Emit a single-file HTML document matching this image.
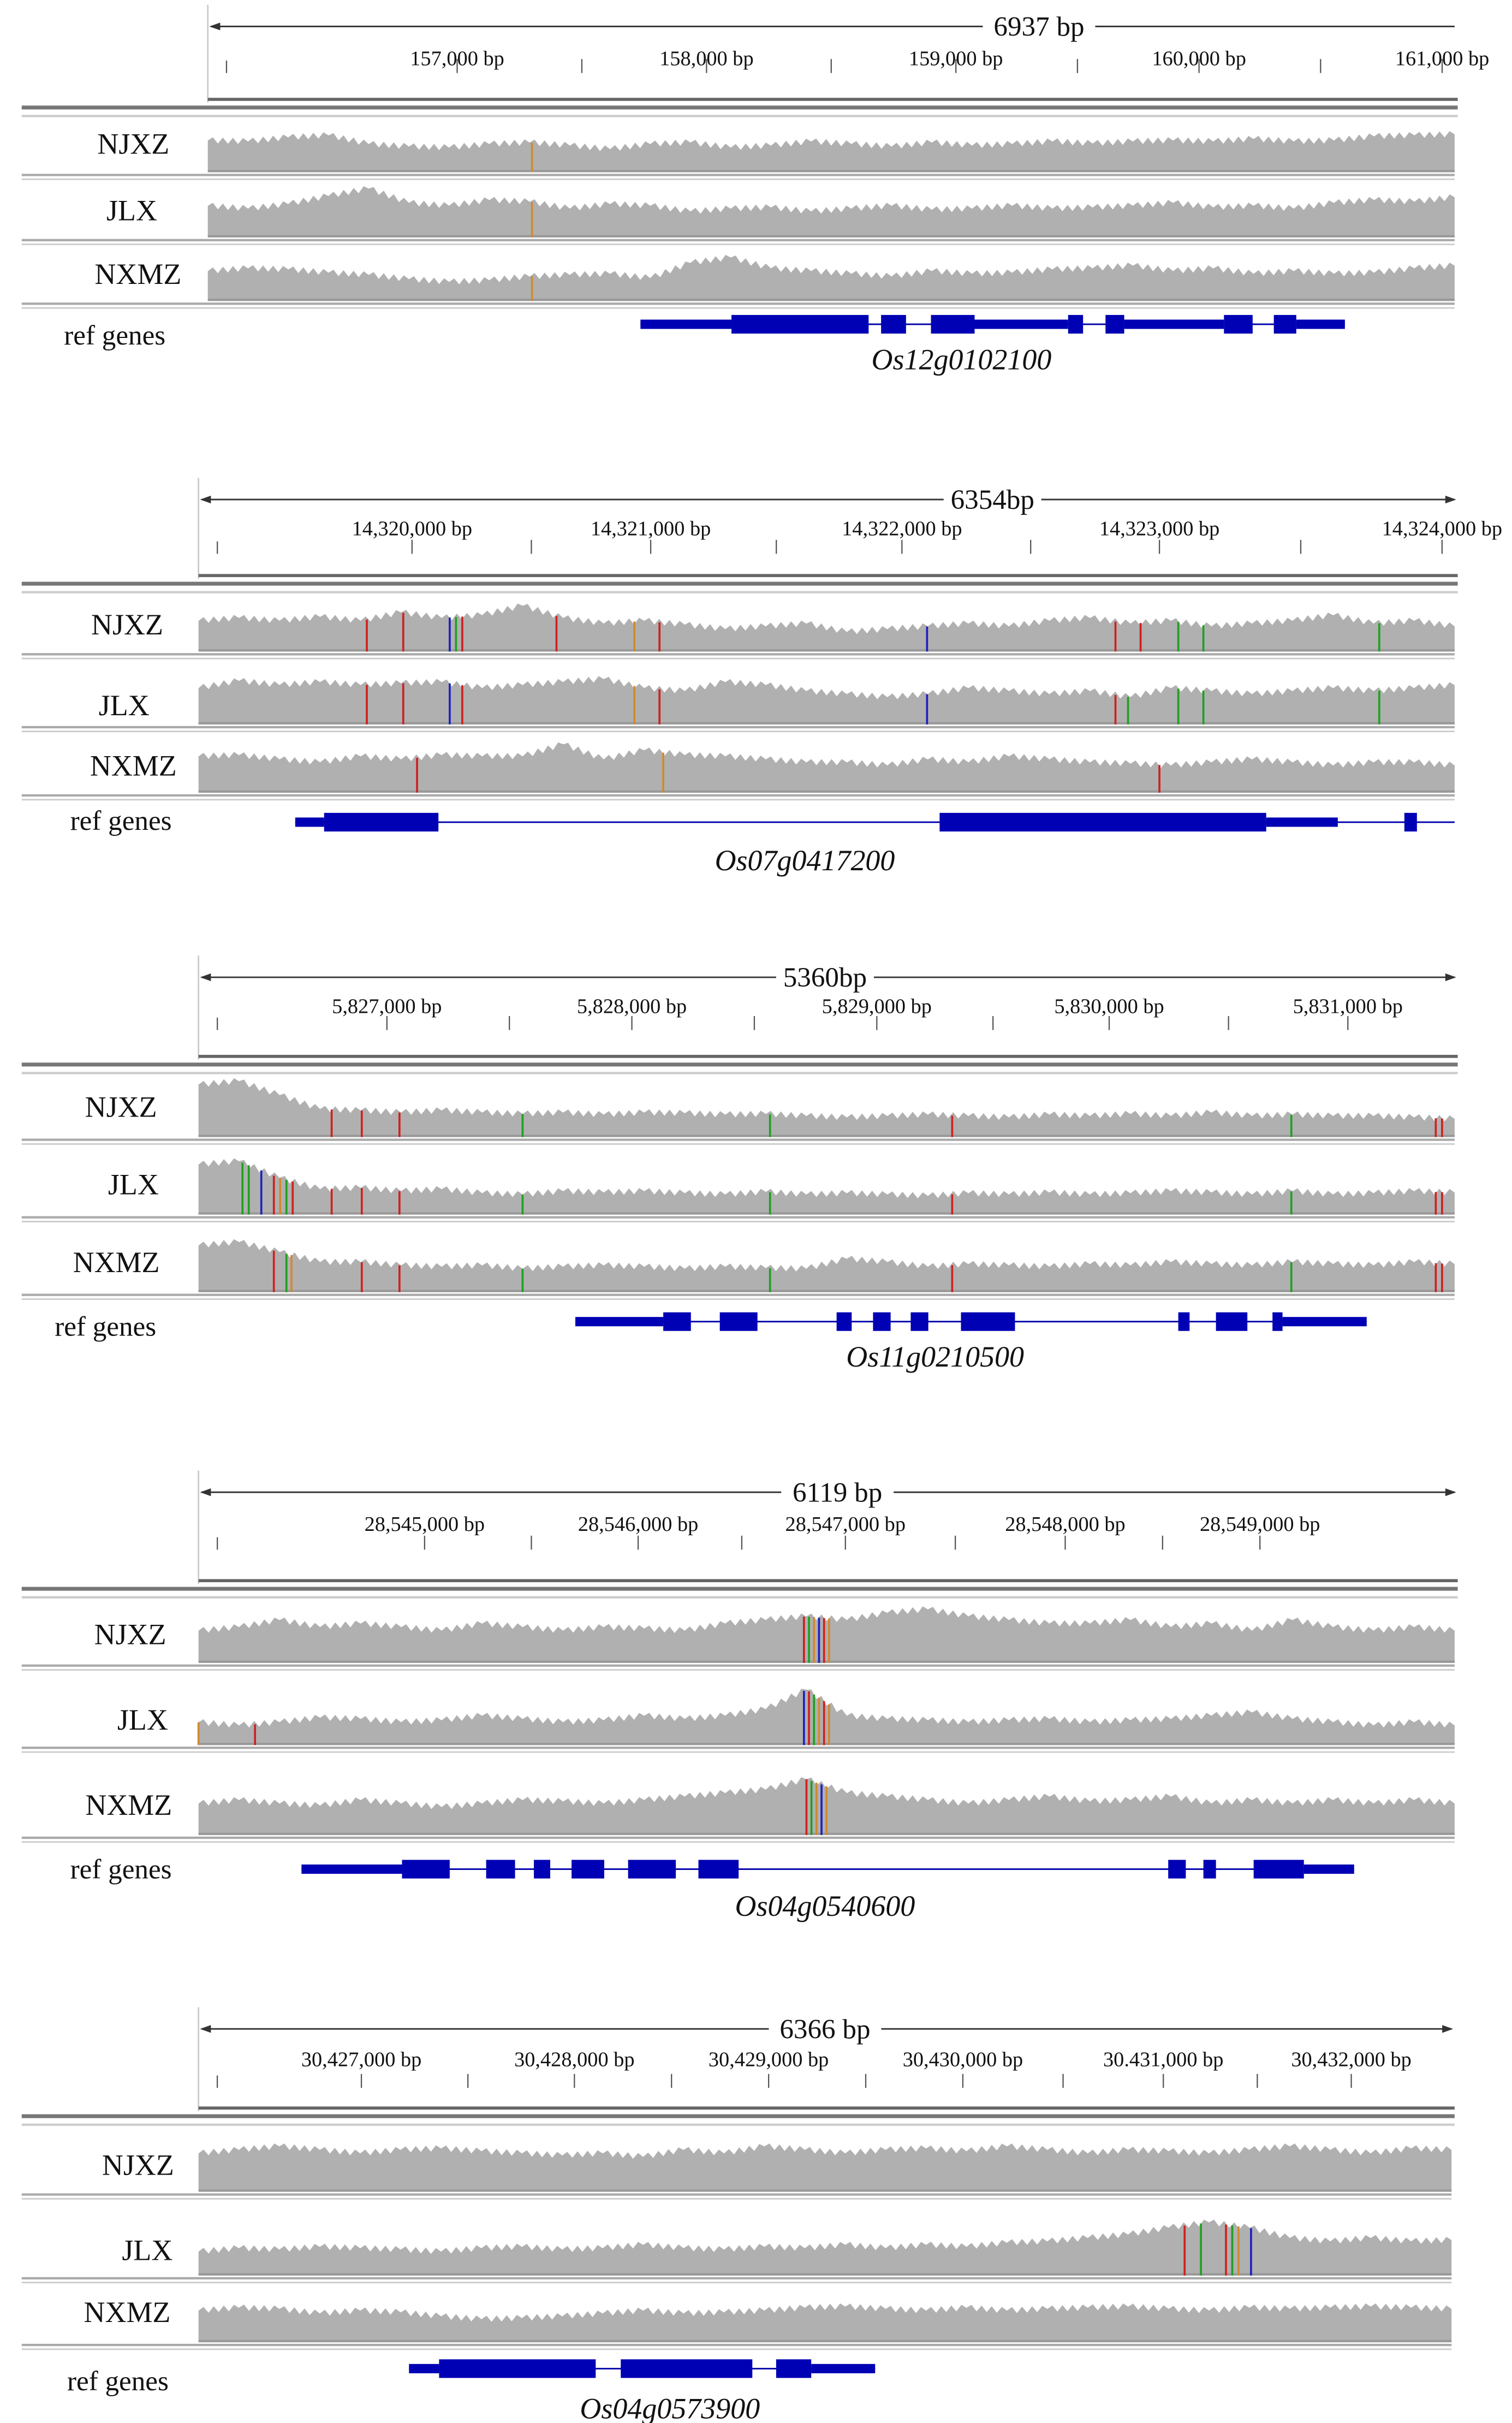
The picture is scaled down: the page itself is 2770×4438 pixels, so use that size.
<!DOCTYPE html>
<html><head><meta charset="utf-8">
<style>html,body{margin:0;padding:0;background:#fff}svg{display:block}</style>
</head><body>
<svg id="fig" width="2770" height="4438" viewBox="0 0 975 1562" xmlns="http://www.w3.org/2000/svg" font-family="'Liberation Serif', serif"></svg>
<script>
const NS='http://www.w3.org/2000/svg';
const svg=document.getElementById('fig');
// ---- data ----
const panelTitles=['6937 bp','6354bp','5360bp','6119 bp','6366 bp'];
const tickLabels=[
 ['157,000 bp','158,000 bp','159,000 bp','160,000 bp','161,000 bp'],
 ['14,320,000 bp','14,321,000 bp','14,322,000 bp','14,323,000 bp','14,324,000 bp'],
 ['5,827,000 bp','5,828,000 bp','5,829,000 bp','5,830,000 bp','5,831,000 bp'],
 ['28,545,000 bp','28,546,000 bp','28,547,000 bp','28,548,000 bp','28,549,000 bp'],
 ['30,427,000 bp','30,428,000 bp','30,429,000 bp','30,430,000 bp','30.431,000 bp','30,432,000 bp']];
const tickFrac=[
 [0.2,0.4,0.6,0.795,0.99],[0.17,0.36,0.56,0.765,0.99],[0.15,0.345,0.54,0.725,0.915],[0.18,0.35,0.515,0.69,0.845],[0.13,0.3,0.455,0.61,0.77,0.92]];
const geneNames=['Os12g0102100','Os07g0417200','Os11g0210500','Os04g0540600','Os04g0573900'];
const sampleNames=['NJXZ','JLX','NXMZ'];
// coverage (fraction of track height), per panel, per sample
const cov=[
 [[.62,.6,.68,.72,.55,.5,.48,.55,.58,.52,.45,.55,.58,.48,.52,.6,.55,.5,.58,.52,.55,.6,.56,.6,.62,.6,.65,.6,.62,.7,.72,.74],
  [.55,.5,.58,.72,.85,.6,.55,.65,.62,.5,.58,.55,.45,.5,.52,.45,.5,.55,.48,.5,.55,.5,.52,.55,.6,.52,.55,.5,.6,.65,.62,.7],
  [.55,.6,.58,.52,.48,.4,.35,.38,.45,.48,.5,.42,.7,.8,.6,.55,.5,.45,.55,.5,.52,.58,.6,.65,.55,.6,.5,.55,.5,.52,.6,.65]],
 [[.55,.6,.55,.62,.55,.7,.6,.65,.82,.6,.5,.55,.48,.4,.45,.5,.35,.4,.45,.5,.45,.55,.6,.5,.55,.45,.5,.55,.65,.5,.55,.45],
  [.6,.72,.65,.7,.65,.68,.7,.6,.65,.7,.75,.6,.55,.7,.65,.55,.5,.45,.5,.6,.55,.5,.55,.45,.6,.55,.5,.55,.6,.55,.6,.65],
  [.6,.62,.55,.5,.6,.55,.62,.6,.6,.8,.55,.7,.62,.6,.55,.5,.5,.45,.55,.5,.6,.55,.5,.48,.45,.5,.55,.5,.45,.5,.5,.45]],
 [[.75,.8,.6,.4,.38,.35,.38,.35,.33,.35,.32,.35,.34,.32,.33,.3,.28,.3,.32,.3,.28,.32,.3,.33,.3,.35,.3,.32,.3,.3,.28,.26],
  [.75,.8,.55,.38,.4,.35,.38,.32,.3,.35,.33,.35,.32,.3,.34,.3,.32,.3,.28,.32,.3,.33,.3,.32,.35,.33,.3,.35,.3,.32,.35,.33],
  [.7,.75,.6,.45,.45,.4,.38,.4,.35,.38,.4,.38,.35,.38,.36,.35,.5,.45,.38,.42,.4,.38,.42,.4,.45,.42,.4,.45,.42,.4,.45,.42]],
 [[.45,.5,.6,.5,.55,.5,.45,.55,.5,.45,.5,.48,.45,.55,.6,.65,.6,.7,.75,.65,.6,.55,.55,.6,.5,.55,.45,.6,.5,.45,.5,.45],
  [.35,.3,.35,.42,.4,.35,.38,.45,.4,.35,.38,.45,.4,.45,.55,.85,.45,.4,.38,.35,.38,.4,.35,.38,.4,.45,.5,.4,.35,.3,.35,.3],
  [.45,.5,.45,.42,.5,.45,.4,.45,.5,.48,.45,.5,.55,.6,.65,.8,.6,.55,.5,.45,.5,.55,.48,.5,.55,.45,.5,.45,.5,.45,.5,.45]],
 [[.55,.6,.65,.6,.55,.6,.62,.58,.55,.52,.55,.5,.6,.55,.65,.6,.55,.6,.62,.58,.65,.6,.55,.6,.58,.55,.6,.65,.6,.55,.62,.6],
  [.35,.4,.38,.42,.4,.38,.35,.4,.42,.38,.4,.45,.4,.38,.42,.4,.45,.4,.45,.42,.48,.5,.55,.6,.7,.78,.7,.55,.5,.55,.5,.52],
  [.55,.6,.58,.5,.55,.52,.45,.4,.42,.45,.5,.55,.5,.52,.55,.6,.62,.58,.55,.6,.55,.58,.6,.62,.58,.55,.6,.58,.6,.62,.6,.58]]];
// variants: [panel, sample, frac position, color]
const variants=[
 [0,0,.26,'#d08a30'],[0,1,.26,'#d08a30'],[0,2,.26,'#d08a30'],
 [1,0,.134,'#d02020'],[1,0,.163,'#d02020'],[1,0,.2,'#2020c0'],[1,0,.205,'#20a020'],[1,0,.21,'#d02020'],[1,0,.285,'#d02020'],[1,0,.347,'#d08a30'],[1,0,.367,'#d02020'],[1,0,.58,'#2020c0'],[1,0,.73,'#d02020'],[1,0,.75,'#d02020'],[1,0,.78,'#20a020'],[1,0,.8,'#20a020'],[1,0,.94,'#20a020'],
 [1,1,.134,'#d02020'],[1,1,.163,'#d02020'],[1,1,.2,'#2020c0'],[1,1,.21,'#d02020'],[1,1,.347,'#d08a30'],[1,1,.367,'#d02020'],[1,1,.58,'#2020c0'],[1,1,.73,'#d02020'],[1,1,.74,'#20a020'],[1,1,.78,'#20a020'],[1,1,.8,'#20a020'],[1,1,.94,'#20a020'],
 [1,2,.174,'#d02020'],[1,2,.37,'#d08a30'],[1,2,.765,'#d02020'],
 [2,0,.106,'#d02020'],[2,0,.13,'#d02020'],[2,0,.16,'#d02020'],[2,0,.258,'#20a020'],[2,0,.455,'#20a020'],[2,0,.6,'#d02020'],[2,0,.87,'#20a020'],[2,0,.985,'#d02020'],[2,0,.99,'#d02020'],
 [2,1,.035,'#20a020'],[2,1,.04,'#20a020'],[2,1,.05,'#2020c0'],[2,1,.06,'#d02020'],[2,1,.065,'#d08a30'],[2,1,.07,'#20a020'],[2,1,.075,'#d02020'],[2,1,.106,'#d02020'],[2,1,.13,'#d02020'],[2,1,.16,'#d02020'],[2,1,.258,'#20a020'],[2,1,.455,'#20a020'],[2,1,.6,'#d02020'],[2,1,.87,'#20a020'],[2,1,.985,'#d02020'],[2,1,.99,'#d02020'],
 [2,2,.06,'#d02020'],[2,2,.07,'#20a020'],[2,2,.074,'#d08a30'],[2,2,.13,'#d02020'],[2,2,.16,'#d02020'],[2,2,.258,'#20a020'],[2,2,.455,'#20a020'],[2,2,.6,'#d02020'],[2,2,.87,'#20a020'],[2,2,.985,'#d02020'],[2,2,.99,'#d02020'],
 [3,0,.482,'#d02020'],[3,0,.486,'#20a020'],[3,0,.49,'#d08a30'],[3,0,.494,'#2020c0'],[3,0,.498,'#d02020'],[3,0,.502,'#d08a30'],
 [3,1,.482,'#2020c0'],[3,1,.486,'#d02020'],[3,1,.49,'#20a020'],[3,1,.494,'#d08a30'],[3,1,.498,'#d02020'],[3,1,.502,'#d08a30'],[3,1,.0,'#d08a30'],[3,1,.045,'#d02020'],
 [3,2,.484,'#d02020'],[3,2,.488,'#20a020'],[3,2,.492,'#d08a30'],[3,2,.496,'#2020c0'],[3,2,.5,'#d08a30'],
 [4,1,.787,'#d02020'],[4,1,.8,'#20a020'],[4,1,.82,'#d02020'],[4,1,.825,'#20a020'],[4,1,.83,'#d08a30'],[4,1,.84,'#2020c0']];
// gene models: intron span and exons [start,end,thick?] as fractions of track width
const geneSpan=[[.347,.912],[.077,1.0],[.3,.93],[.082,.92],[.168,.54]];
const geneExons=[
 [[.347,.42,0],[.42,.53,1],[.54,.56,1],[.58,.615,1],[.615,.69,0],[.69,.702,1],[.72,.735,1],[.735,.815,0],[.815,.838,1],[.855,.873,1],[.873,.912,0]],
 [[.077,.1,0],[.1,.191,1],[.59,.85,1],[.85,.907,0],[.96,.97,1]],
 [[.3,.37,0],[.37,.392,1],[.415,.445,1],[.508,.52,1],[.537,.551,1],[.567,.581,1],[.607,.65,1],[.78,.789,1],[.81,.835,1],[.855,.863,1],[.863,.93,0]],
 [[.082,.162,0],[.162,.2,1],[.229,.252,1],[.267,.28,1],[.297,.323,1],[.342,.38,1],[.398,.43,1],[.772,.786,1],[.8,.81,1],[.84,.88,1],[.88,.92,0]],
 [[.168,.192,0],[.192,.317,1],[.337,.442,1],[.461,.489,1],[.489,.54,0]]];
// ---- layout ----
const panels=[
 {x0:134,x1:938,ruler:17,tickY:45,labY:48,base:63,tracks:[[78,111],[116,153],[159,194]],labX:[86,85,89]},
 {x0:128,x1:938,ruler:322,tickY:355,labY:351,base:370,tracks:[[384,420],[428,467],[472,511]],labX:[82,80,86]},
 {x0:128,x1:938,ruler:630,tickY:662,labY:659,base:680,tracks:[[688,733],[740,783],[790,833]],labX:[78,86,75]},
 {x0:128,x1:938,ruler:962,tickY:997,labY:993,base:1018,tracks:[[1026,1072],[1083,1125],[1138,1183]],labX:[84,92,83]},
 {x0:128,x1:936,ruler:1308,tickY:1344,labY:1338,base:1358,tracks:[[1368,1413],[1423,1467],[1473,1510]],labX:[89,95,82]}];
const labelY=[[99,142,183],[409,461,500],[720,770,820],[1060,1115,1170],[1402,1457,1497]];
const geneRowY=[209,530,852,1205,1527];
const geneNameY=[238,561,881,1235,1559];
const genesLabelY=[222,535,861,1211,1541];
const genesLabelX=[74,78,68,78,76];

function el(tag,attrs,parent,text){const e=document.createElementNS(NS,tag);for(const k in attrs)e.setAttribute(k,attrs[k]);if(text!==undefined)e.textContent=text;(parent||svg).appendChild(e);return e;}

panels.forEach((p,pi)=>{
  const g=el('g',{});
  
  
  const W=p.x1-p.x0;const xs=f=>p.x0+f*W;
  el('line',{x1:p.x0,y1:p.ruler-14,x2:p.x0,y2:p.base+3,stroke:'#ccc','stroke-width':1},g);
  const r=el('line',{x1:p.x0+2,y1:p.ruler,x2:p.x1,y2:p.ruler,stroke:'#333','stroke-width':1},g);
  
  
  el('path',{d:`M${p.x0+1},${p.ruler} l7,-2.5 v5z`,fill:'#333'},g);
  if(pi>0) el('path',{d:`M${p.x1+1},${p.ruler} l-7,-2.5 v5z`,fill:'#333'},g);
  const tw=panelTitles[pi].length*9.5+6;const tcx=[670,640,532,540,532][pi];
  el('rect',{x:tcx-tw/2,y:p.ruler-9,width:tw,height:18,fill:'#fff'},g);
  const t=el('text',{x:tcx,y:p.ruler+6,'text-anchor':'middle','font-size':18,fill:'#111'},g,panelTitles[pi]);
  
  
  tickLabels[pi].forEach((lab,i)=>{
    const x=xs(tickFrac[pi][i]);
    el('line',{x1:x,y1:p.tickY-7,x2:x,y2:p.tickY+2,stroke:'#555','stroke-width':0.8},g);
    const tl=el('text',{x:x,y:p.labY-6,'text-anchor':'middle','font-size':13.5,fill:'#111'},g,lab);
    
    
    if(i<tickLabels[pi].length-1){const xm=xs((tickFrac[pi][i]+tickFrac[pi][i+1])/2);
      el('line',{x1:xm,y1:p.tickY-7,x2:xm,y2:p.tickY+2,stroke:'#555','stroke-width':0.8},g);}
  });
  el('line',{x1:xs(0.015),y1:p.tickY-6,x2:xs(0.015),y2:p.tickY+2,stroke:'#555','stroke-width':0.8},g);
  el('rect',{x:p.x0,y:p.base,width:W+2,height:2,fill:'#666'},g);
  el('rect',{x:14,y:p.base+5,width:p.x1-12,height:2.5,fill:'#777'},g);
  el('rect',{x:14,y:p.base+11,width:p.x1-12,height:1.5,fill:'#ccc'},g);
  p.tracks.forEach((tr,si)=>{
    const [y0,y1]=tr;const H=y1-y0;
    const tg=el('g',{},g);
    
    
    const vals=cov[pi][si];const n=vals.length;
    let d=`M${p.x0},${y1}`;
    for(let i=0;i<n;i++){const xa=xs(i/(n-1));const ya=y1-vals[i]*H;
      d+=` L${xa},${ya}`;
      if(i<n-1){const xb=xs((i+1)/(n-1));const yb=y1-vals[i+1]*H;
        for(let k=1;k<8;k++){const f=k/8;const xx=xa+(xb-xa)*f;const yy=ya+(yb-ya)*f+((k%2)?-2.2:1.8);
          d+=` L${xx},${yy}`;}}}
    d+=` L${p.x1},${y1} Z`;
    el('path',{d:d,fill:'#b0b0b0'},tg);
    el('rect',{x:p.x0,y:y1-1.5,width:W,height:1.5,fill:'#999'},tg);
    el('rect',{x:14,y:y1+1,width:p.x1-14,height:1.5,fill:'#aaa'},g);
    el('rect',{x:14,y:y1+4,width:p.x1-14,height:1,fill:'#ccc'},g);
    const lb=el('text',{x:p.labX[si],y:labelY[pi][si],'text-anchor':'middle','font-size':19,fill:'#111'},g,sampleNames[si]);
    
    
  });
  variants.filter(v=>v[0]===pi).forEach(v=>{
    const tr=p.tracks[v[1]];const H=tr[1]-tr[0];
    const vals=cov[pi][v[1]];const idx=v[2]*(vals.length-1);const i0=Math.floor(idx),i1=Math.min(vals.length-1,i0+1);
    const hv=vals[i0]+(vals[i1]-vals[i0])*(idx-i0);
    const vl=el('line',{x1:xs(v[2]),y1:tr[1]-hv*H,x2:xs(v[2]),y2:tr[1],stroke:v[3],'stroke-width':1.3},g);
    
    
  });
  const gl=el('text',{x:genesLabelX[pi],y:genesLabelY[pi],'text-anchor':'middle','font-size':18,fill:'#111'},g,'ref genes');
  
  
  const gg=el('g',{},g);
  
  
  const gy=geneRowY[pi];const sp=geneSpan[pi];
  el('line',{x1:xs(sp[0]),y1:gy,x2:xs(sp[1]),y2:gy,stroke:'#0000aa','stroke-width':1},gg);
  geneExons[pi].forEach(e=>{const h=e[2]?12:6;
    el('rect',{x:xs(e[0]),y:gy-h/2,width:xs(e[1])-xs(e[0]),height:h,fill:'#0000b4'},gg);});
  const gn=el('text',{x:[620,519,603,532,432][pi],y:geneNameY[pi],'text-anchor':'middle','font-size':19,'font-style':'italic',fill:'#111'},g,geneNames[pi]);
  
  
});
</script>
</body></html>
